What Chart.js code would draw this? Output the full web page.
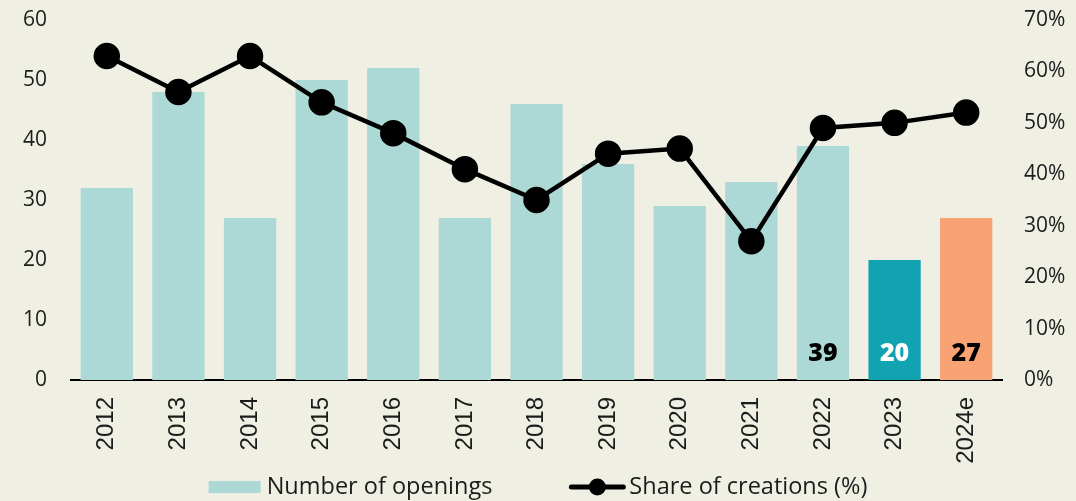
<!DOCTYPE html>
<html>
<head>
<meta charset="utf-8">
<script src="https://cdn.jsdelivr.net/npm/chart.js@4/dist/chart.umd.min.js"></script>
<style>
  html, body { margin: 0; padding: 0; background: #f0efe4; }
  #wrap { width: 1076px; height: 501px; position: relative; }
</style>
</head>
<body>
<div id="wrap"><canvas id="chart"></canvas></div>
<script>
// Restaurant openings per year and the share of them that are new creations
const years = ['2012', '2013', '2014', '2015', '2016', '2017', '2018', '2019', '2020', '2021', '2022', '2023', '2024e'];
const openings = [32, 48, 27, 50, 52, 27, 46, 36, 29, 33, 39, 20, 27];
const shareOfCreations = [63, 56, 63, 54, 48, 41, 35, 44, 45, 27, 49, 50, 52];
const openingsTicks = [0, 10, 20, 30, 40, 50, 60];
const shareTicks = [0, 10, 20, 30, 40, 50, 60, 70];
const labelledYears = ['2022', '2023', '2024e'];

const FONT = '"Open Sans", Lato, sans-serif';
const YEAR_FONT = '"Liberation Sans", Arial, sans-serif';
const INK = '#1c1c1c';
const BAR = '#acd9d5';
const highlight = { '2023': '#12a3b2', '2024e': '#f7a373' };
const labelInk = { '2023': '#ffffff' };

const barColours = years.map(y => highlight[y] || BAR);

// Value labels written at the foot of selected bars
const barLabels = {
  id: 'barLabels',
  afterDatasetsDraw(chart) {
    const meta = chart.getDatasetMeta(1);
    const ctx = chart.ctx;
    ctx.save();
    ctx.font = '800 25px ' + FONT;
    ctx.textAlign = 'center';
    ctx.textBaseline = 'middle';
    meta.data.forEach((bar, i) => {
      if (!labelledYears.includes(years[i])) return;
      ctx.fillStyle = labelInk[years[i]] || '#000';
      ctx.fillText(String(openings[i]), bar.x, bar.base - 26);
    });
    ctx.restore();
  }
};

// Legend with a bar swatch and a line-with-dot symbol
const bottomLegend = {
  id: 'bottomLegend',
  afterDraw(chart) {
    const ctx = chart.ctx;
    const t1 = chart.data.datasets[1].label;
    const t2 = chart.data.datasets[0].label;
    ctx.save();
    ctx.font = '23.5px ' + FONT;
    const w1 = ctx.measureText(t1).width;
    const w2 = ctx.measureText(t2).width;
    const box = 52, gap1 = 6, spacing = 77, icon = 56, gap2 = 4;
    const total = box + gap1 + w1 + spacing + icon + gap2 + w2;
    let x = chart.width / 2 - total / 2;
    const y = 487;
    ctx.fillStyle = BAR;
    ctx.fillRect(x, y - 6, box, 12);
    x += box + gap1;
    ctx.fillStyle = INK;
    ctx.textBaseline = 'middle';
    ctx.textAlign = 'left';
    ctx.fillText(t1, x, y);
    x += w1 + spacing;
    ctx.strokeStyle = '#000';
    ctx.lineWidth = 5;
    ctx.lineCap = 'round';
    ctx.beginPath();
    ctx.moveTo(x + 2, y);
    ctx.lineTo(x + icon - 2, y);
    ctx.stroke();
    ctx.fillStyle = '#000';
    ctx.beginPath();
    ctx.arc(x + icon / 2, y, 8.5, 0, Math.PI * 2);
    ctx.fill();
    x += icon + gap2;
    ctx.fillStyle = INK;
    ctx.fillText(t2, x, y);
    ctx.restore();
  }
};

// Fixed side-axis widths and no extra label padding above/below the plot
function sideAxisFit(width) {
  return function (scale) {
    scale.width = width;
    scale.paddingTop = 0;
    scale.paddingBottom = 0;
  };
}

new Chart(document.getElementById('chart'), {
  data: {
    labels: years,
    datasets: [
      {
        type: 'line',
        label: 'Share of creations (%)',
        data: shareOfCreations,
        yAxisID: 'y1',
        borderColor: '#000',
        backgroundColor: '#000',
        borderWidth: 4.5,
        pointRadius: 11,
        pointHoverRadius: 11,
        tension: 0,
        order: 0
      },
      {
        type: 'bar',
        label: 'Number of openings',
        data: openings,
        yAxisID: 'y',
        backgroundColor: barColours,
        categoryPercentage: 1,
        barPercentage: 0.73,
        order: 1
      }
    ]
  },
  options: {
    responsive: true,
    maintainAspectRatio: false,
    animation: false,
    layout: { padding: { top: 20, bottom: 30, left: 0, right: 0 } },
    plugins: {
      legend: { display: false },
      tooltip: { enabled: false }
    },
    scales: {
      x: {
        grid: { display: false, drawTicks: false },
        border: { display: true, color: '#000', width: 2 },
        ticks: {
          color: INK,
          font: { family: YEAR_FONT, size: 24 },
          maxRotation: 90,
          minRotation: 90,
          padding: 17
        },
        afterFit(scale) {
          scale.height = 91;
          scale.paddingLeft = 0;
          scale.paddingRight = 0;
        }
      },
      y: {
        position: 'left',
        min: 0,
        max: 60,
        afterBuildTicks(scale) { scale.ticks = openingsTicks.map(v => ({ value: v })); },
        grid: { display: false, drawTicks: false },
        border: { display: false },
        ticks: {
          color: INK,
          font: { family: FONT, size: 21 },
          padding: 24
        },
        afterFit: sideAxisFit(71)
      },
      y1: {
        position: 'right',
        min: 0,
        max: 70,
        afterBuildTicks(scale) { scale.ticks = shareTicks.map(v => ({ value: v })); },
        grid: { display: false, drawTicks: false },
        border: { display: false },
        ticks: {
          color: INK,
          font: { family: FONT, size: 21 },
          padding: 22,
          callback: v => v + '%'
        },
        afterFit: sideAxisFit(74)
      }
    }
  },
  plugins: [barLabels, bottomLegend]
});
</script>
</body>
</html>
